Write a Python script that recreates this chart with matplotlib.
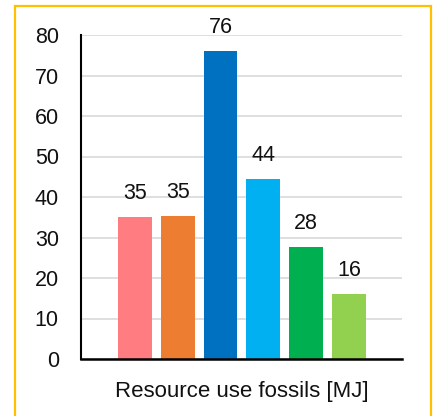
import matplotlib
matplotlib.use("Agg")
import matplotlib.pyplot as plt
from matplotlib.patches import Rectangle

categories = ["A", "B", "C", "D", "E", "F"]
values = [35.1, 35.4, 76.1, 44.5, 27.7, 16.1]
labels = ["35", "35", "76", "44", "28", "16"]
colors = ["#FF7C80", "#ED7D31", "#0070C0", "#00B0F0", "#00B050", "#92D050"]
yticks = [0, 10, 20, 30, 40, 50, 60, 70, 80]
xlabel = "Resource use fossils [MJ]"

plt.rcParams['font.family'] = ['Liberation Sans', 'DejaVu Sans']

W, H = 433, 416
fig = plt.figure(figsize=(W/100, H/100), dpi=100)
ax = fig.add_axes([81/W, 1-359/H, (402-81)/W, (359-35)/H])

x = list(range(len(categories)))
bars = ax.bar(x, values, width=0.79, color=colors, zorder=3)
for b, lab in zip(bars, labels):
    ax.annotate(lab, (b.get_x()+b.get_width()/2, b.get_height()), xytext=(0, 13),
                textcoords='offset points', ha='center', va='baseline', fontsize=15.5, color='#111111')

ax.set_xlim(-1.26, len(categories)-1+1.24)
ax.set_ylim(0, 80)
ax.set_yticks(yticks)
ax.set_xticks([])
ax.tick_params(axis='y', length=0, pad=16, labelsize=15.5, labelcolor='#111111')
ax.grid(axis='y', color='#D9D9D9', linewidth=1.2, zorder=0)
for s in ['top', 'right']:
    ax.spines[s].set_visible(False)
ax.spines['left'].set_linewidth(1.5)
ax.spines['bottom'].set_linewidth(1.8)
ax.spines['left'].set_zorder(4)
ax.spines['bottom'].set_zorder(4)
fig.text(241.5/W, 1-397/H, xlabel, ha='center', va='baseline', fontsize=16, color='#111111')

fig.patches.append(Rectangle((15/W, -0.1), (431-15)/W, 1.1-6/H, transform=fig.transFigure,
                             fill=False, edgecolor='#FFC000', linewidth=1.6))
fig.savefig("out.png", dpi=100)
